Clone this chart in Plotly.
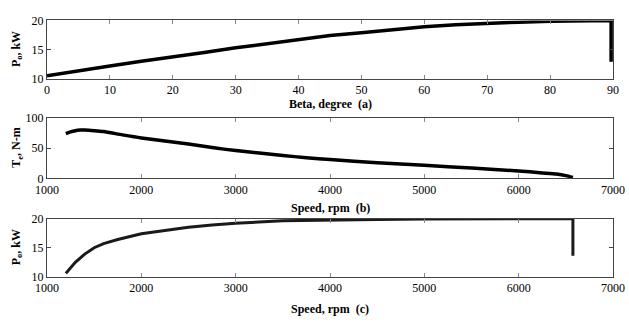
import plotly.graph_objects as go

# Panel (a): output power vs beta
beta_deg = [0, 5, 10, 15, 20, 25, 30, 35, 40, 45, 50, 55, 60, 65, 70, 75, 80, 85, 89.7, 89.7]
power_a_kw = [10.5, 11.4, 12.2, 13.0, 13.7, 14.5, 15.3, 16.0, 16.8, 17.4, 17.9, 18.45, 18.9, 19.25, 19.5, 19.7, 19.85, 19.95, 20.0, 12.9]

# Panel (b): torque vs speed
speed_b_rpm = [1200, 1250, 1300, 1350, 1400, 1500, 1600, 1800, 2000, 2250, 2500, 2750, 3000, 3250,
               3500, 3750, 4000, 4500, 5000, 5500, 6000, 6250, 6400, 6500, 6575]
torque_nm = [74, 77, 79, 80, 80, 79, 77.5, 72, 67, 62, 57, 51, 46, 42,
             38, 34, 31, 26, 21.7, 17, 12.2, 9, 7, 4.5, 1.5]

# Panel (c): output power vs speed
speed_c_rpm = [1200, 1250, 1300, 1400, 1500, 1600, 1750, 2000, 2250, 2500, 2750, 3000, 3500,
               4000, 4500, 5000, 5500, 6000, 6575, 6575]
power_c_kw = [10.6, 11.6, 12.5, 13.9, 15.0, 15.7, 16.4, 17.4, 18.0, 18.5, 18.9, 19.2, 19.6,
              19.75, 19.85, 19.9, 19.95, 20.0, 20.0, 13.6]

xticks_a = [0, 10, 20, 30, 40, 50, 60, 70, 80, 90]
xticks_speed = [1000, 2000, 3000, 4000, 5000, 6000, 7000]
yticks_power = [10, 15, 20]
yticks_torque = [0, 50, 100]

W, H = 629, 326
FONT = "Liberation Serif, Times New Roman, Times, serif"

fig = go.Figure()
fig.add_trace(go.Scatter(x=beta_deg, y=power_a_kw, mode="lines",
                         line=dict(color="black", width=3.5), xaxis="x", yaxis="y"))
fig.add_trace(go.Scatter(x=speed_b_rpm, y=torque_nm, mode="lines",
                         line=dict(color="black", width=3.5, shape="spline", smoothing=0.6),
                         xaxis="x2", yaxis="y2"))
fig.add_trace(go.Scatter(x=speed_c_rpm, y=power_c_kw, mode="lines",
                         line=dict(color="#1a1a1a", width=3), xaxis="x3", yaxis="y3"))


def ydom(top_px, bot_px):
    return [1 - bot_px / H, 1 - top_px / H]


common_x = dict(showline=True, linecolor="#444", linewidth=1, mirror="ticks",
                ticks="inside", ticklen=4, tickcolor="#888", showgrid=False, zeroline=False,
                tickfont=dict(family=FONT, size=12, color="black"))
common_y = dict(showline=True, linecolor="#444", linewidth=1, mirror="ticks",
                ticks="inside", ticklen=4, tickcolor="#444", showgrid=False, zeroline=False,
                tickfont=dict(family=FONT, size=12, color="black"))

fig.update_layout(
    width=W, height=H,
    margin=dict(l=47, r=16, t=0, b=0),
    paper_bgcolor="white", plot_bgcolor="white",
    showlegend=False,
    font=dict(family=FONT, size=12, color="black"),
    xaxis=dict(domain=[0, 1], range=[0, 90], tickvals=xticks_a, anchor="y", **common_x),
    yaxis=dict(domain=ydom(14, 75), range=[10, 20], tickvals=yticks_power, anchor="x", **common_y),
    xaxis2=dict(domain=[0, 1], range=[1000, 7000], tickvals=xticks_speed, anchor="y2", **common_x),
    yaxis2=dict(domain=ydom(116, 179), range=[0, 100], tickvals=yticks_torque, anchor="x2", **common_y),
    xaxis3=dict(domain=[0, 1], range=[1000, 7000], tickvals=xticks_speed, anchor="y3", **common_x),
    yaxis3=dict(domain=ydom(221, 282), range=[10, 20], tickvals=yticks_power, anchor="x3", **common_y),
)

title_font = dict(family=FONT, size=12, color="black")
annots = [
    dict(text="<b>Beta, degree  (a)</b>", x=330, y=101, textangle=0),
    dict(text="<b>Speed, rpm  (b)</b>", x=330, y=210, textangle=0),
    dict(text="<b>Speed, rpm  (c)</b>", x=330, y=316, textangle=0),
    dict(text="<b>P<sub>o</sub>, kW</b>", x=17, y=44, textangle=-90),
    dict(text="<b>T<sub>e</sub>, N-m</b>", x=17, y=147, textangle=-90),
    dict(text="<b>P<sub>o</sub>, kW</b>", x=17, y=251, textangle=-90),
]
for a in annots:
    fig.add_annotation(text=a["text"], xref="paper", yref="paper",
                       x=(a["x"] - 47) / (W - 47 - 16),
                       y=1 - a["y"] / H, showarrow=False, textangle=a["textangle"],
                       xanchor="center", yanchor="middle", font=title_font)

fig.write_html("out.html",
               config={"displayModeBar": False},
               post_script="document.body.style.margin='0';document.body.style.overflow='hidden';")
